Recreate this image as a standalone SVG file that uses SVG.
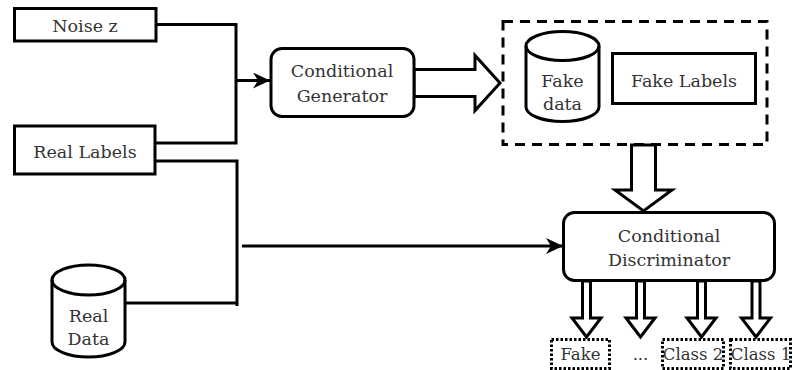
<svg xmlns="http://www.w3.org/2000/svg" width="793" height="370" viewBox="0 0 793 370">
<style>
  .box { fill: #fff; stroke: #000; stroke-width: 3; }
  .rbox { fill: #fff; stroke: #000; stroke-width: 3; }
  .dash { fill: none; stroke: #000; stroke-width: 3; stroke-dasharray: 10 7; }
  .dot { fill: #fff; stroke: #000; stroke-width: 3; stroke-dasharray: 2.5 2; }
  .cyl { fill: #fff; stroke: #000; stroke-width: 3; }
  .line { fill: none; stroke: #000; stroke-width: 3; }
  .harrow { fill: #fff; stroke: #000; stroke-width: 3; stroke-linejoin: miter; }
  .lbl { font-family: 'DejaVu Serif', serif; fill: #333; text-anchor: middle; }
  .t21 { font-size: 17.5px; }
  .t20 { font-size: 16.5px; }
</style>
<defs>
  <marker id="ah" markerUnits="userSpaceOnUse" markerWidth="18" markerHeight="18" viewBox="0 0 18 18" refX="17" refY="8" orient="auto">
    <path d="M0,0 L17,8 L0,16 L5,8 Z" fill="#000"/>
  </marker>
</defs>

<g id="connectors">
  <polyline class="line" points="156,24.5 236,24.5 236,143 155,143"/>
  <line class="line" x1="236" y1="80.5" x2="270" y2="80.5" marker-end="url(#ah)"/>
  <polyline class="line" points="155,161 237,161 237,306"/>
  <line class="line" x1="122" y1="303" x2="237" y2="303"/>
  <line class="line" x1="242" y1="246" x2="563" y2="246" marker-end="url(#ah)"/>
  <polygon class="harrow" points="414,69.5 475,69.5 475,55.5 500,83 475,110.5 475,96.5 414,96.5"/>
  <polygon class="harrow" points="631.5,145 655.5,145 655.5,190 672,190 643.5,211 615,190 631.5,190"/>
  <polygon class="harrow" points="582.5,281 590.5,281 590.5,318 601,318 586.5,337 572,318 582.5,318"/>
  <polygon class="harrow" points="636.5,281 644.5,281 644.5,318 655,318 640.5,337 626,318 636.5,318"/>
  <polygon class="harrow" points="697.5,281 705.5,281 705.5,318 716,318 701.5,337 687,318 697.5,318"/>
  <polygon class="harrow" points="752,281 760,281 760,318 770.5,318 756,337 741.5,318 752,318"/>
</g>

<g id="noise">
  <rect class="box" x="14.5" y="8.5" width="141.5" height="32.5"/>
  <text class="lbl t21" x="85" y="32">Noise z</text>
</g>

<g id="real-labels">
  <rect class="box" x="14.5" y="126" width="140.5" height="48"/>
  <text class="lbl t21" x="85" y="158">Real Labels</text>
</g>

<g id="real-data">
  <path class="cyl" d="M52,280 A36.5,15 0 0 1 125,280 L125,342 A36.5,15 0 0 1 52,342 Z"/>
  <path class="line" d="M52,280 A36.5,15 0 0 0 125,280"/>
  <text class="lbl t21" x="88.5" y="322">Real</text>
  <text class="lbl t21" x="88.5" y="345">Data</text>
</g>

<g id="generator">
  <rect class="rbox" x="271" y="48.5" width="143" height="68" rx="11"/>
  <text class="lbl t21" x="342" y="77">Conditional</text>
  <text class="lbl t21" x="342" y="102">Generator</text>
</g>

<g id="fake-group">
  <rect class="dash" x="503" y="21.5" width="264" height="123"/>
</g>

<g id="fake-data">
  <path class="cyl" d="M526,46 A36.5,14.5 0 0 1 599,46 L599,107 A36.5,14.5 0 0 1 526,107 Z"/>
  <path class="line" d="M526,46 A36.5,14.5 0 0 0 599,46"/>
  <text class="lbl t21" x="562.5" y="87">Fake</text>
  <text class="lbl t21" x="562.5" y="110">data</text>
</g>

<g id="fake-labels">
  <rect class="box" x="612.5" y="53.5" width="143" height="50"/>
  <text class="lbl t21" x="684" y="87">Fake Labels</text>
</g>

<g id="discriminator">
  <rect class="rbox" x="563.5" y="212.5" width="211" height="68" rx="11"/>
  <text class="lbl t21" x="669" y="242">Conditional</text>
  <text class="lbl t21" x="669" y="266">Discriminator</text>
</g>

<g id="out-fake">
  <rect class="dot" x="551.5" y="339.5" width="58" height="29"/>
  <text class="lbl t20" x="580.5" y="360">Fake</text>
</g>

<g id="out-dots">
  <text class="lbl t20" x="640.5" y="360">...</text>
</g>

<g id="out-class2">
  <rect class="dot" x="662.5" y="339.5" width="61" height="29"/>
  <text class="lbl t20" x="693" y="360">Class 2</text>
</g>

<g id="out-class1">
  <rect class="dot" x="730.5" y="339.5" width="60" height="29"/>
  <text class="lbl t20" x="761" y="360">Class 1</text>
</g>
</svg>
